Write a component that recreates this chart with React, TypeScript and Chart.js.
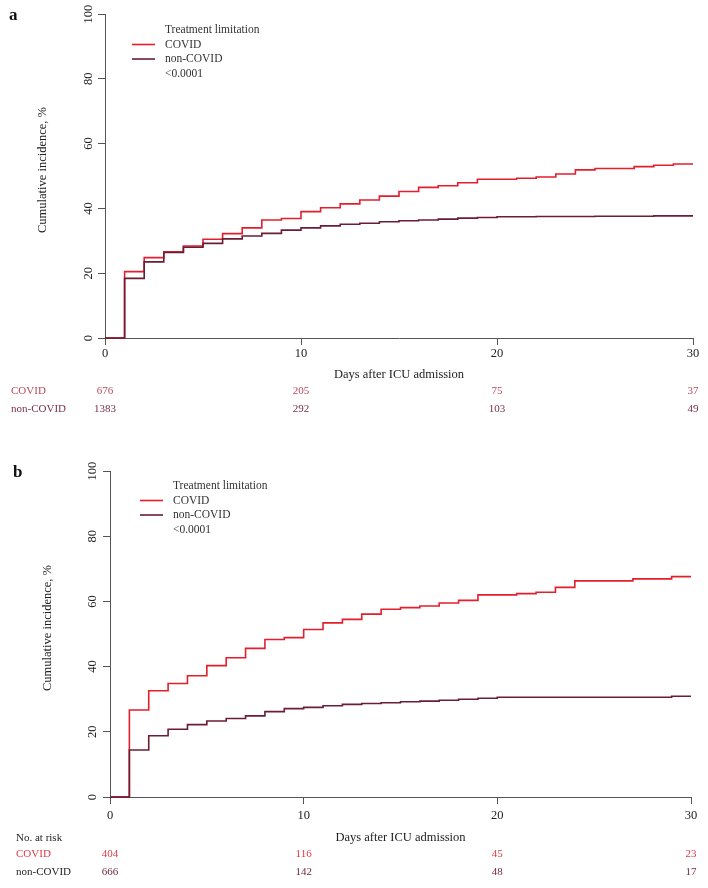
import React, { useEffect, useRef } from "react";
import { Chart, registerables } from "chart.js";

Chart.register(...registerables);

// ---------- data ----------
const days = [0, 1, 2, 3, 4, 5, 6, 7, 8, 9, 10, 11, 12, 13, 14, 15, 16, 17, 18, 19, 20, 21, 22, 23, 24, 25, 26, 27, 28, 29, 30];

const covidA = [0, 20.5, 24.8, 26.6, 28.4, 30.5, 32.2, 34.0, 36.4, 36.9, 39.0, 40.2, 41.4, 42.6, 43.8, 45.2, 46.5, 47.0, 47.9, 49.0, 49.0, 49.3, 49.7, 50.6, 51.9, 52.3, 52.3, 52.9, 53.3, 53.7, 53.7];
const nonCovidA = [0, 18.4, 23.5, 26.4, 28.0, 29.2, 30.6, 31.5, 32.3, 33.3, 34.0, 34.6, 35.1, 35.4, 35.9, 36.2, 36.4, 36.7, 37.0, 37.2, 37.4, 37.4, 37.5, 37.5, 37.5, 37.6, 37.6, 37.6, 37.7, 37.7, 37.7];

const covidB = [0, 26.7, 32.6, 34.8, 37.2, 40.3, 42.7, 45.6, 48.3, 48.9, 51.4, 53.4, 54.5, 56.1, 57.6, 58.1, 58.6, 59.5, 60.3, 62.0, 62.0, 62.4, 62.8, 64.3, 66.3, 66.3, 66.3, 66.9, 66.9, 67.6, 67.6];
const nonCovidB = [0, 14.4, 18.8, 20.8, 22.2, 23.3, 24.1, 24.9, 26.2, 27.1, 27.5, 28.0, 28.4, 28.7, 28.9, 29.2, 29.4, 29.7, 30.0, 30.3, 30.6, 30.6, 30.6, 30.6, 30.6, 30.6, 30.6, 30.6, 30.6, 30.9, 30.9];

const riskTimes = [0, 10, 20, 30];
const riskCovidA = [676, 205, 75, 37];
const riskNonCovidA = [1383, 292, 103, 49];
const riskCovidB = [404, 116, 45, 23];
const riskNonCovidB = [666, 142, 48, 17];

const seriesNames = ["COVID", "non-COVID"];
const legendTitle = "Treatment limitation";
const pValueText = "<0.0001";
const xTitle = "Days after ICU admission";
const yTitle = "Cumulative incidence, %";

// ---------- style ----------
const FONT = '"Liberation Serif", "Times New Roman", "DejaVu Serif", serif';
const RED = "#e31e2d";
const DARK = "#6b1d33";
const AXIS = "#555555";
const W = 708;
const H = 444;
const XH = 40;

type PanelCfg = {
  letter: string;
  covid: number[];
  nonCovid: number[];
  riskCovid: number[];
  riskNon: number[];
  area: { left: number; right: number; top: number; bottom: number };
  letterPos: [number, number];
  legendX: number;
  legendRows: number[];
  yLabelOffset: number;
  yTitlePos: [number, number];
  xTitleY: number;
  tickPad: number;
  riskRows: [number, number];
  noAtRiskY: number | null;
  labelX: number;
  colors: { covidLabel: string; covidNum: string; nonLabel: string; nonNum: string };
};

const panelA: PanelCfg = {
  letter: "a",
  covid: covidA,
  nonCovid: nonCovidA,
  riskCovid: riskCovidA,
  riskNon: riskNonCovidA,
  area: { left: 105, right: 693, top: 14, bottom: 338 },
  letterPos: [9, 19.5],
  legendX: 165,
  legendRows: [30, 44.5, 59, 73.5],
  yLabelOffset: 16,
  yTitlePos: [43, 170],
  xTitleY: 375,
  tickPad: 1.5,
  riskRows: [391, 409.5],
  noAtRiskY: null,
  labelX: 11,
  colors: { covidLabel: "#b8485c", covidNum: "#b8485c", nonLabel: "#7a3048", nonNum: "#7a3048" },
};

const panelB: PanelCfg = {
  letter: "b",
  covid: covidB,
  nonCovid: nonCovidB,
  riskCovid: riskCovidB,
  riskNon: riskNonCovidB,
  area: { left: 110, right: 691, top: 27, bottom: 353 },
  letterPos: [13, 32.5],
  legendX: 173,
  legendRows: [42, 56.5, 71, 86],
  yLabelOffset: 17,
  yTitlePos: [48, 184],
  xTitleY: 394,
  tickPad: 4.5,
  riskRows: [410, 428.5],
  noAtRiskY: 394,
  labelX: 16,
  colors: { covidLabel: "#e03a48", covidNum: "#e03a48", nonLabel: "#222222", nonNum: "#6e2a42" },
};

function toPoints(vals: number[]) {
  return days.map((d, i) => ({ x: d, y: vals[i] }));
}

function Panel({ cfg }: { cfg: PanelCfg }) {
  const ref = useRef<HTMLCanvasElement | null>(null);

  useEffect(() => {
    if (!ref.current) return;
    const a = cfg.area;

    const overlay = {
      id: "overlay" + cfg.letter,
      afterDraw(chart: any) {
        const ctx = chart.ctx as CanvasRenderingContext2D;
        const xs = chart.scales.x;
        const ys = chart.scales.y;
        const ca = chart.chartArea;
        ctx.save();

        // panel letter
        ctx.fillStyle = "#111";
        ctx.font = `bold 17px ${FONT}`;
        ctx.textAlign = "left";
        ctx.textBaseline = "alphabetic";
        ctx.fillText(cfg.letter, cfg.letterPos[0], cfg.letterPos[1]);

        // y tick labels (rotated)
        ctx.font = `12.5px ${FONT}`;
        ctx.fillStyle = "#222";
        ys.ticks.forEach((t: any) => {
          const py = ys.getPixelForValue(t.value);
          ctx.save();
          ctx.translate(ca.left - cfg.yLabelOffset, py);
          ctx.rotate(-Math.PI / 2);
          ctx.textAlign = "center";
          ctx.textBaseline = "middle";
          ctx.fillText(String(t.value), 0, 0);
          ctx.restore();
        });

        // y title
        ctx.save();
        ctx.translate(cfg.yTitlePos[0], cfg.yTitlePos[1]);
        ctx.rotate(-Math.PI / 2);
        ctx.textAlign = "center";
        ctx.textBaseline = "middle";
        ctx.font = `12.5px ${FONT}`;
        ctx.fillText(yTitle, 0, 0);
        ctx.restore();

        // x title
        ctx.textAlign = "center";
        ctx.textBaseline = "middle";
        ctx.font = `12.5px ${FONT}`;
        ctx.fillStyle = "#222";
        ctx.fillText(xTitle, (ca.left + ca.right) / 2, cfg.xTitleY);

        // legend
        ctx.font = `11.5px ${FONT}`;
        ctx.textAlign = "left";
        ctx.fillStyle = "#333";
        ctx.fillText(legendTitle, cfg.legendX, cfg.legendRows[0]);
        const legColors = [RED, DARK];
        seriesNames.forEach((n, i) => {
          const y = cfg.legendRows[i + 1];
          ctx.strokeStyle = legColors[i];
          ctx.lineWidth = 1.6;
          ctx.beginPath();
          ctx.moveTo(cfg.legendX - 33, y);
          ctx.lineTo(cfg.legendX - 10, y);
          ctx.stroke();
          ctx.fillStyle = "#333";
          ctx.fillText(n, cfg.legendX, y);
        });
        ctx.fillText(pValueText, cfg.legendX, cfg.legendRows[3]);

        // risk table
        ctx.font = `11px ${FONT}`;
        if (cfg.noAtRiskY !== null) {
          ctx.fillStyle = "#222";
          ctx.textAlign = "left";
          ctx.fillText("No. at risk", cfg.labelX, cfg.noAtRiskY);
        }
        const rows = [
          { label: seriesNames[0], vals: cfg.riskCovid, lc: cfg.colors.covidLabel, nc: cfg.colors.covidNum, y: cfg.riskRows[0] },
          { label: seriesNames[1], vals: cfg.riskNon, lc: cfg.colors.nonLabel, nc: cfg.colors.nonNum, y: cfg.riskRows[1] },
        ];
        rows.forEach((r) => {
          ctx.textAlign = "left";
          ctx.fillStyle = r.lc;
          ctx.fillText(r.label, cfg.labelX, r.y);
          ctx.textAlign = "center";
          ctx.fillStyle = r.nc;
          r.vals.forEach((v, i) => {
            ctx.fillText(String(v), xs.getPixelForValue(riskTimes[i]), r.y);
          });
        });

        ctx.restore();
      },
    };

    const chart = new Chart(ref.current, {
      type: "line",
      data: {
        datasets: [
          {
            label: seriesNames[1],
            data: toPoints(cfg.nonCovid),
            borderColor: DARK,
            borderWidth: 1.6,
            pointRadius: 0,
            stepped: "before",
            fill: false,
            clip: false,
          } as any,
          {
            label: seriesNames[0],
            data: toPoints(cfg.covid),
            borderColor: RED,
            borderWidth: 1.6,
            pointRadius: 0,
            stepped: "before",
            fill: false,
            clip: false,
          } as any,
        ],
      },
      options: {
        animation: false,
        responsive: false,
        maintainAspectRatio: false,
        layout: {
          padding: { left: 0, right: W - a.right, top: a.top, bottom: H - a.bottom - XH },
        },
        plugins: { legend: { display: false }, tooltip: { enabled: false } },
        scales: {
          x: {
            type: "linear",
            min: 0,
            max: 30,
            afterFit: (s: any) => {
              s.height = XH;
            },
            ticks: {
              stepSize: 10,
              autoSkip: false,
              maxRotation: 0,
              color: "#222",
              padding: cfg.tickPad,
              font: { family: FONT, size: 12.5 },
            },
            grid: { drawOnChartArea: false, drawTicks: true, tickLength: 7, color: AXIS, lineWidth: 1 },
            border: { display: true, color: AXIS, width: 1 },
          },
          y: {
            type: "linear",
            min: 0,
            max: 100,
            afterFit: (s: any) => {
              s.width = a.left;
            },
            ticks: { stepSize: 20, display: false },
            grid: { drawOnChartArea: false, drawTicks: true, tickLength: 7, color: AXIS, lineWidth: 1 },
            border: { display: true, color: AXIS, width: 1 },
          },
        },
      } as any,
      plugins: [overlay],
    });

    return () => chart.destroy();
  }, [cfg]);

  return <canvas ref={ref} width={W} height={H} style={{ display: "block", width: W, height: H }} />;
}

export default function App() {
  return (
    <div style={{ position: "absolute", left: 0, top: 0, width: W, height: 2 * H, background: "#ffffff" }}>
      <Panel cfg={panelA} />
      <Panel cfg={panelB} />
    </div>
  );
}
